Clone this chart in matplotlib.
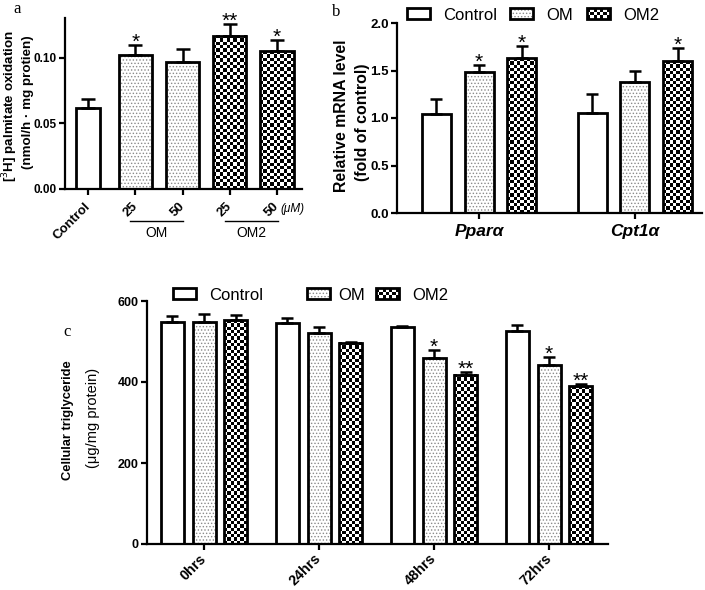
import matplotlib
matplotlib.use('Agg')
import matplotlib.pyplot as plt
import numpy as np
from matplotlib.patches import Rectangle, Patch
from matplotlib.legend_handler import HandlerBase
import matplotlib.transforms as mtransforms

# ---------------- data ----------------
a_labels = ['Control', '25', '50', '25', '50']
a_vals = [0.062, 0.102, 0.097, 0.117, 0.105]
a_errs = [0.007, 0.008, 0.010, 0.009, 0.009]
a_stars = ['', '*', '', '**', '*']
a_groups = ['OM', 'OM2']
a_yticks = [0.00, 0.05, 0.10]

b_genes = ['Ppar\u03b1', 'Cpt1\u03b1']
b_series = ['Control', 'OM', 'OM2']
b_control = [1.04, 1.05]
b_control_err = [0.16, 0.20]
b_om = [1.48, 1.38]
b_om_err = [0.08, 0.115]
b_om2 = [1.63, 1.60]
b_om2_err = [0.125, 0.14]
b_stars_control = ['', '']
b_stars_om = ['*', '']
b_stars_om2 = ['*', '*']
b_yticks = [0.0, 0.5, 1.0, 1.5, 2.0]

c_times = ['0hrs', '24hrs', '48hrs', '72hrs']
c_control = [549, 545, 536, 527]
c_control_err = [15, 12, 2, 14]
c_om = [547, 522, 460, 442]
c_om_err = [20, 14, 20, 20]
c_om2 = [553, 497, 418, 390]
c_om2_err = [13, 3, 7, 6]
c_stars_control = ['', '', '', '']
c_stars_om = ['', '', '*', '*']
c_stars_om2 = ['', '', '**', '**']
c_yticks = [0, 200, 400, 600]

# ---------------- style ----------------
plt.rcParams['font.family'] = ['Liberation Sans', 'DejaVu Sans']
plt.rcParams['hatch.linewidth'] = 0.6

W, H = 705, 590
fig = plt.figure(figsize=(W / 100, H / 100), dpi=100)


def px_axes(l, r, b, t):
    return fig.add_axes([l / W, 1 - b / H, (r - l) / W, (b - t) / H])


def style_axes(ax, fs):
    for s in ['top', 'right']:
        ax.spines[s].set_visible(False)
    for s in ['left', 'bottom']:
        ax.spines[s].set_linewidth(1.6)
    ax.tick_params(width=1.6, length=4, direction='out', labelsize=fs, pad=2)
    for lab in ax.get_yticklabels() + ax.get_xticklabels():
        lab.set_fontweight('bold')


def checker_fill(ax, patch, cell=3.3):
    x0, w, h = patch.get_x(), patch.get_width(), patch.get_height()
    p0 = ax.transData.transform((x0, 0))
    p1 = ax.transData.transform((x0 + w, h))
    nx = max(1, int(round(abs(p1[0] - p0[0]) / cell)))
    ny = max(1, int(round(abs(p1[1] - p0[1]) / cell)))
    ii, jj = np.indices((ny, nx))
    arr = (ii + jj) % 2
    ax.imshow(arr, extent=(x0, x0 + w, 0, h), cmap='gray', vmin=0, vmax=1,
              interpolation='nearest', aspect='auto', zorder=2, origin='lower')


def draw_series(ax, xs, vals, errs, width, kind, stars, star_fs=15, capsize=4.5):
    bars = ax.bar(xs, vals, width, color='white', edgecolor='none', zorder=1)
    if kind == 'dots':
        ax.bar(xs, vals, width, color='white', edgecolor='#8a8a8a', hatch='.....',
               linewidth=0, zorder=2)
    elif kind == 'checker':
        for p in bars.patches:
            checker_fill(ax, p)
    ax.bar(xs, vals, width, fill=False, edgecolor='black', linewidth=2.0, zorder=4)
    ax.errorbar(xs, vals, yerr=[np.zeros(len(vals)), errs], fmt='none', ecolor='black',
                elinewidth=1.8, capsize=capsize, capthick=1.8, zorder=5)
    for x, v, e, s in zip(xs, vals, errs, stars):
        if s:
            ax.annotate(s, (x, v + e), xytext=(0, -5), textcoords='offset points',
                        ha='center', va='bottom', fontsize=star_fs)


class CheckerHandle(Patch):
    pass


class CheckerHandler(HandlerBase):
    def create_artists(self, legend, orig_handle, xdescent, ydescent, width, height,
                       fontsize, trans):
        arts = [Rectangle((-xdescent, -ydescent), width, height, facecolor='white',
                          edgecolor='none', transform=trans)]
        nx, ny = 7, 3
        cw, ch = width / nx, height / ny
        for i in range(nx):
            for j in range(ny):
                if (i + j) % 2 == 0:
                    arts.append(Rectangle((-xdescent + i * cw, -ydescent + j * ch), cw, ch,
                                          facecolor='black', edgecolor='none',
                                          transform=trans))
        arts.append(Rectangle((-xdescent, -ydescent), width, height, fill=False,
                              edgecolor='black', linewidth=2.0, transform=trans))
        return arts


def legend_handles():
    h_ctrl = Patch(facecolor='white', edgecolor='black', linewidth=2.0)
    h_om = (Patch(facecolor='white', edgecolor='#8a8a8a', hatch='.....', linewidth=0),
            Patch(fill=False, edgecolor='black', linewidth=2.0))
    h_om2 = CheckerHandle()
    return [h_ctrl, h_om, h_om2]


def place_legend(handle, label, xpx, ypx, fs, pad=0.8):
    fig.legend([handle], [label], loc='center left',
               bbox_to_anchor=(xpx / W, 1 - ypx / H), frameon=False, borderpad=0,
               borderaxespad=0, handlelength=1.38, handleheight=0.6, handletextpad=pad,
               fontsize=fs, handler_map={CheckerHandle: CheckerHandler()})


def rotate_labels(ax, fs, pad):
    for lab in ax.get_xticklabels():
        lab.set_rotation(45)
        lab.set_ha('right')
        lab.set_va('center')
        lab.set_rotation_mode('anchor')
        lab.set_fontsize(fs)
    ax.tick_params(axis='x', pad=pad)


# ---------------- panel a ----------------
axa = px_axes(65, 302, 189, 18)
xa = np.arange(len(a_labels))
axa.set_xlim(-0.49, len(a_labels) - 1 + 0.53)
axa.set_ylim(0, 0.1305)
kinds_a = ['plain', 'dots', 'dots', 'checker', 'checker']
widths_a = [0.5, 0.7, 0.7, 0.7, 0.7]
for i in range(len(a_labels)):
    draw_series(axa, [xa[i]], [a_vals[i]], [a_errs[i]], widths_a[i], kinds_a[i],
                [a_stars[i]], star_fs=15, capsize=5)
axa.set_xlim(-0.49, len(a_labels) - 1 + 0.53)
axa.set_ylim(0, 0.1305)
axa.set_yticks(a_yticks)
axa.set_yticklabels([f'{v:.2f}' for v in a_yticks])
axa.set_xticks(xa)
axa.set_xticklabels(a_labels)
style_axes(axa, 8.5)
rotate_labels(axa, 9.5, 7)
trans_a = mtransforms.blended_transform_factory(axa.transData, axa.transAxes)
for g, (i0, i1) in zip(a_groups, [(1, 2), (3, 4)]):
    axa.plot([i0 - 0.11, i1 + 0.02], [-0.187, -0.187], color='black', lw=1.0,
             transform=trans_a, clip_on=False)
    axa.text((i0 - 0.11 + i1 + 0.02) / 2, -0.255, g, transform=trans_a, ha='center',
             va='center', fontsize=10)
axa.text(4.08, -0.118, '(\u03bcM)', transform=trans_a, ha='left', va='center',
         fontsize=8.5, fontstyle='italic')
fig.text(10 / W, 1 - 106 / H, '[$^3$H] palmitate oxidation', rotation=90, ha='center',
         va='center', fontsize=9.6, fontweight='bold')
fig.text(28 / W, 1 - 102 / H, '(nmol/h \u00b7 mg protien)', rotation=90, ha='center',
         va='center', fontsize=9.6, fontweight='bold')
fig.text(17 / W, 1 - 9 / H, 'a', ha='center', va='center', fontsize=12,
         family=['Liberation Serif', 'DejaVu Serif'])

# ---------------- panel b ----------------
axb = px_axes(397, 702, 213, 23)
xb = np.arange(len(b_genes))
off_b = 0.275
wb = 0.186
axb.set_xlim(-0.526, 1.43)
axb.set_ylim(0, 2.0)
draw_series(axb, xb - off_b, b_control, b_control_err, wb, 'plain', b_stars_control, 15, 4.5)
draw_series(axb, xb, b_om, b_om_err, wb, 'dots', b_stars_om, 15, 4.5)
draw_series(axb, xb + off_b, b_om2, b_om2_err, wb, 'checker', b_stars_om2, 15, 4.5)
axb.set_xlim(-0.526, 1.43)
axb.set_ylim(0, 2.0)
axb.set_yticks(b_yticks)
axb.set_yticklabels([f'{v:.1f}' for v in b_yticks])
axb.set_xticks(xb)
axb.set_xticklabels(b_genes)
style_axes(axb, 9.5)
for lab in axb.get_xticklabels():
    lab.set_fontstyle('italic')
    lab.set_fontsize(12.5)
axb.tick_params(axis='x', pad=4)
fig.text(342 / W, 1 - 116 / H, 'Relative mRNA level', rotation=90, ha='center',
         va='center', fontsize=11.4, fontweight='bold')
fig.text(362 / W, 1 - 122 / H, '(fold of control)', rotation=90, ha='center',
         va='center', fontsize=11.4, fontweight='bold')
fig.text(336 / W, 1 - 12 / H, 'b', ha='center', va='center', fontsize=12,
         family=['Liberation Serif', 'DejaVu Serif'])
hb = legend_handles()
for h, lab, xp in zip(hb, b_series, [407, 510, 587]):
    place_legend(h, lab, xp, 15, 12)

# ---------------- panel c ----------------
axc = px_axes(147, 608, 544, 301)
xc = np.arange(len(c_times))
off_c = 0.275
wc = 0.2
axc.set_xlim(-0.496, 3.513)
axc.set_ylim(0, 600)
draw_series(axc, xc - off_c, c_control, c_control_err, wc, 'plain', c_stars_control, 15, 4)
draw_series(axc, xc, c_om, c_om_err, wc, 'dots', c_stars_om, 15, 4)
draw_series(axc, xc + off_c, c_om2, c_om2_err, wc, 'checker', c_stars_om2, 15, 4)
axc.set_xlim(-0.496, 3.513)
axc.set_ylim(0, 600)
axc.set_yticks(c_yticks)
axc.set_xticks(xc)
axc.set_xticklabels(c_times)
style_axes(axc, 9)
rotate_labels(axc, 10.3, 5)
fig.text(68 / W, 1 - 420 / H, 'Cellular triglyceride', rotation=90, ha='center',
         va='center', fontsize=9.3, fontweight='bold')
fig.text(93 / W, 1 - 418 / H, '(\u03bcg/mg protein)', rotation=90, ha='center',
         va='center', fontsize=10.5,
         family=['Liberation Sans Narrow', 'Liberation Sans', 'DejaVu Sans'])
fig.text(67 / W, 1 - 332 / H, 'c', ha='center', va='center', fontsize=12,
         family=['Liberation Serif', 'DejaVu Serif'])
hc = legend_handles()
for h, lab, xp, pad in zip(hc, b_series, [173, 307, 376], [0.8, 0.5, 0.8]):
    place_legend(h, lab, xp, 295, 12, pad)

fig.savefig('out.png', dpi=100, facecolor='white')
